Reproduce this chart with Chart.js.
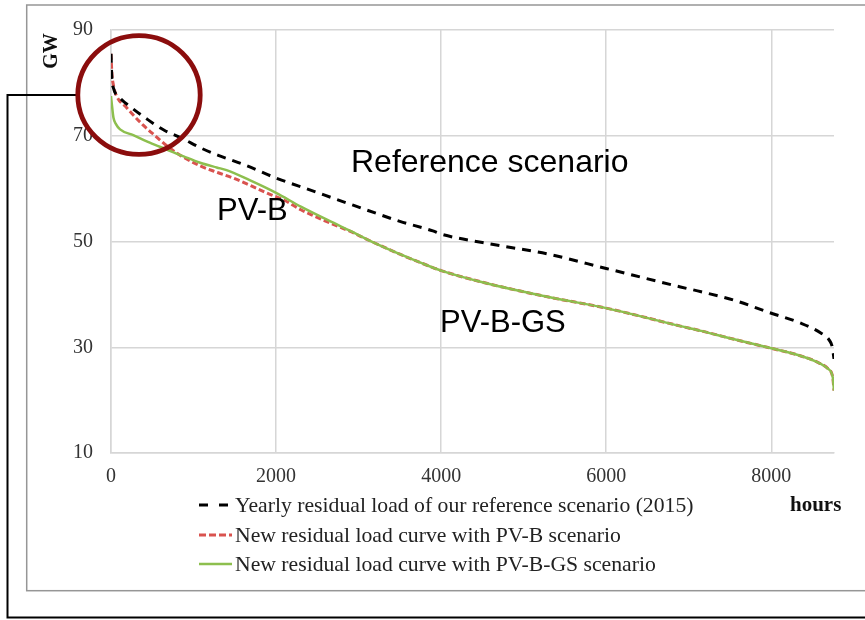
<!DOCTYPE html>
<html>
<head>
<meta charset="utf-8">
<script src="https://cdn.jsdelivr.net/npm/chart.js@4"></script>
<style>
  html, body { margin: 0; padding: 0; background: #fff; }
  #wrap { position: relative; width: 865px; height: 620px; }
</style>
</head>
<body>
<div id="wrap"><canvas id="chart" width="865" height="620"></canvas></div>
<script>
// Curvas de carga residual ordenadas (horas del año vs GW)
const seriesLabels = [
  'Yearly residual load of our reference scenario (2015)',
  'New residual load curve with PV-B scenario',
  'New residual load curve with PV-B-GS scenario'
];

const refHours = [0, 10, 30, 100, 250, 450, 650, 850, 1100, 1300, 1600, 2000, 2400, 2800, 3200, 3500, 3900, 4000, 4500, 5300, 6000, 6900, 7150, 7550, 7950, 8350, 8600, 8700, 8740, 8760];
const refLoad  = [85.5, 81, 79, 77.3, 75.3, 73, 71, 69.6, 67.6, 66.3, 64.6, 62, 59.8, 57.6, 55.4, 53.8, 52, 51.4, 49.8, 47.6, 44.9, 41.4, 40.5, 38.9, 36.7, 34.6, 32.7, 31.4, 30, 27.8];

const pvbHours = [0, 10, 30, 60, 190, 390, 550, 700, 850, 1080, 1300, 1480, 1700, 1900, 2100, 2300, 2450, 2700, 2900, 3100, 3500, 3750, 4000, 4500, 5300, 6000, 6900, 7150, 7550, 8000, 8350, 8570, 8690, 8745, 8760];
const pvbLoad  = [85.5, 82, 79.5, 77.8, 75.3, 72, 69.8, 67.8, 66.2, 64.3, 63, 62, 60.5, 59.1, 57.8, 56, 54.9, 53.2, 51.9, 50.4, 47.6, 46, 44.5, 42.3, 39.5, 37.4, 34, 33.1, 31.5, 29.8, 28.4, 27.1, 25.9, 24.3, 21.8];

const gsHours = [0, 10, 30, 60, 110, 270, 470, 675, 880, 1080, 1280, 1400, 1680, 2000, 2300, 2700, 2900, 3100, 3500, 3750, 4000, 4500, 5300, 6000, 6900, 7150, 7550, 8000, 8350, 8570, 8690, 8745, 8760];
const gsLoad  = [77.5, 76, 73.4, 72.2, 71.2, 70.1, 68.7, 67.4, 66.1, 64.9, 64, 63.5, 61.6, 59.2, 56.6, 53.5, 52, 50.4, 47.6, 46, 44.5, 42.3, 39.5, 37.4, 34, 33.1, 31.5, 29.8, 28.4, 27.1, 25.9, 24.3, 21.8];

const xTicks = [0, 2000, 4000, 6000, 8000];
const yTicks = [10, 30, 50, 70, 90];

const annotations = ['Reference scenario', 'PV-B', 'PV-B-GS'];

const serif = "'Liberation Serif', 'Times New Roman', serif";
const sans = "'Liberation Sans', Arial, sans-serif";
const gridColor = '#d6d6d6';

const toPoints = (xs, ys) => xs.map((x, i) => ({ x: x, y: ys[i] }));

// Decoración: marco, llave negra, círculo, textos y leyenda
const decor = {
  id: 'decor',
  beforeDraw(chart) {
    const c = chart.ctx;
    c.save();
    c.fillStyle = '#fff';
    c.fillRect(0, 0, chart.width, chart.height);
    // marco gris de la figura
    c.strokeStyle = '#969696';
    c.lineWidth = 1.5;
    c.strokeRect(26.7, 5, 900, 585.7);
    // llave negra
    c.strokeStyle = '#000';
    c.lineWidth = 2;
    c.beginPath();
    c.moveTo(76, 95);
    c.lineTo(7.5, 95);
    c.lineTo(7.5, 617.5);
    c.lineTo(870, 617.5);
    c.stroke();
    c.restore();
  },
  afterDraw(chart) {
    const c = chart.ctx;
    c.save();
    // círculo rojo oscuro
    c.strokeStyle = '#8b0d0d';
    c.lineWidth = 4.8;
    c.beginPath();
    c.ellipse(139, 95, 61.2, 59.4, 0, 0, Math.PI * 2);
    c.stroke();

    // textos dentro del gráfico
    c.fillStyle = '#000';
    c.font = '32px ' + sans;
    c.textAlign = 'left';
    c.textBaseline = 'alphabetic';
    c.fillText(annotations[0], 351, 172);
    c.font = '31px ' + sans;
    c.fillText(annotations[1], 217, 220);
    c.fillText(annotations[2], 440, 332);

    // título de los ejes
    c.font = 'bold 21px ' + serif;
    c.fillStyle = '#111';
    c.fillText('hours', 790, 511);
    c.save();
    c.translate(57, 51);
    c.rotate(-Math.PI / 2);
    c.textAlign = 'center';
    c.font = 'bold 20px ' + serif;
    c.fillText('GW', 0, 0);
    c.restore();

    // leyenda
    const rows = [505, 535, 564];
    const dashes = [[9, 11], [7, 3], []];
    chart.data.datasets.forEach((ds, i) => {
      c.strokeStyle = ds.borderColor;
      c.lineWidth = ds.borderWidth;
      c.setLineDash(dashes[i]);
      c.beginPath();
      c.moveTo(199, rows[i]);
      c.lineTo(232, rows[i]);
      c.stroke();
      c.setLineDash([]);
      c.fillStyle = '#222';
      c.font = '21.7px ' + serif;
      c.textBaseline = 'middle';
      c.fillText(ds.label, 235, rows[i] + 1);
    });
    c.restore();
  }
};

const ctx = document.getElementById('chart').getContext('2d');
new Chart(ctx, {
  type: 'line',
  data: {
    datasets: [
      { label: seriesLabels[0], data: toPoints(refHours, refLoad), borderColor: '#000', borderWidth: 3, borderDash: [9, 7], order: 0 },
      { label: seriesLabels[1], data: toPoints(pvbHours, pvbLoad), borderColor: '#d9534f', borderWidth: 3, borderDash: [6, 3], order: 2 },
      { label: seriesLabels[2], data: toPoints(gsHours, gsLoad), borderColor: '#8dbf4e', borderWidth: 2.5, order: 1 }
    ]
  },
  options: {
    responsive: false,
    animation: false,
    elements: {
      point: { radius: 0 },
      line: { cubicInterpolationMode: 'monotone', fill: false }
    },
    layout: { padding: { top: 24, right: 31, left: 0, bottom: 0 } },
    plugins: { legend: { display: false }, tooltip: { enabled: false } },
    scales: {
      x: {
        type: 'linear', min: 0, max: 8760,
        afterFit: s => { s.height = 167; },
        afterBuildTicks: s => { s.ticks = xTicks.map(v => ({ value: v })); },
        ticks: { padding: 12, maxRotation: 0, autoSkip: false, color: '#333', font: { family: serif, size: 20 }, callback: v => String(v) },
        grid: { color: gridColor, lineWidth: 1.5, drawTicks: false },
        border: { color: gridColor, width: 1.5 }
      },
      y: {
        min: 10, max: 90,
        afterFit: s => { s.width = 111; },
        afterBuildTicks: s => { s.ticks = yTicks.map(v => ({ value: v })); },
        ticks: { padding: 18, color: '#333', font: { family: serif, size: 20 }, callback: v => String(v) },
        grid: { color: gridColor, lineWidth: 1.5, drawTicks: false },
        border: { color: gridColor, width: 1.5 }
      }
    }
  },
  plugins: [decor]
});
</script>
</body>
</html>
